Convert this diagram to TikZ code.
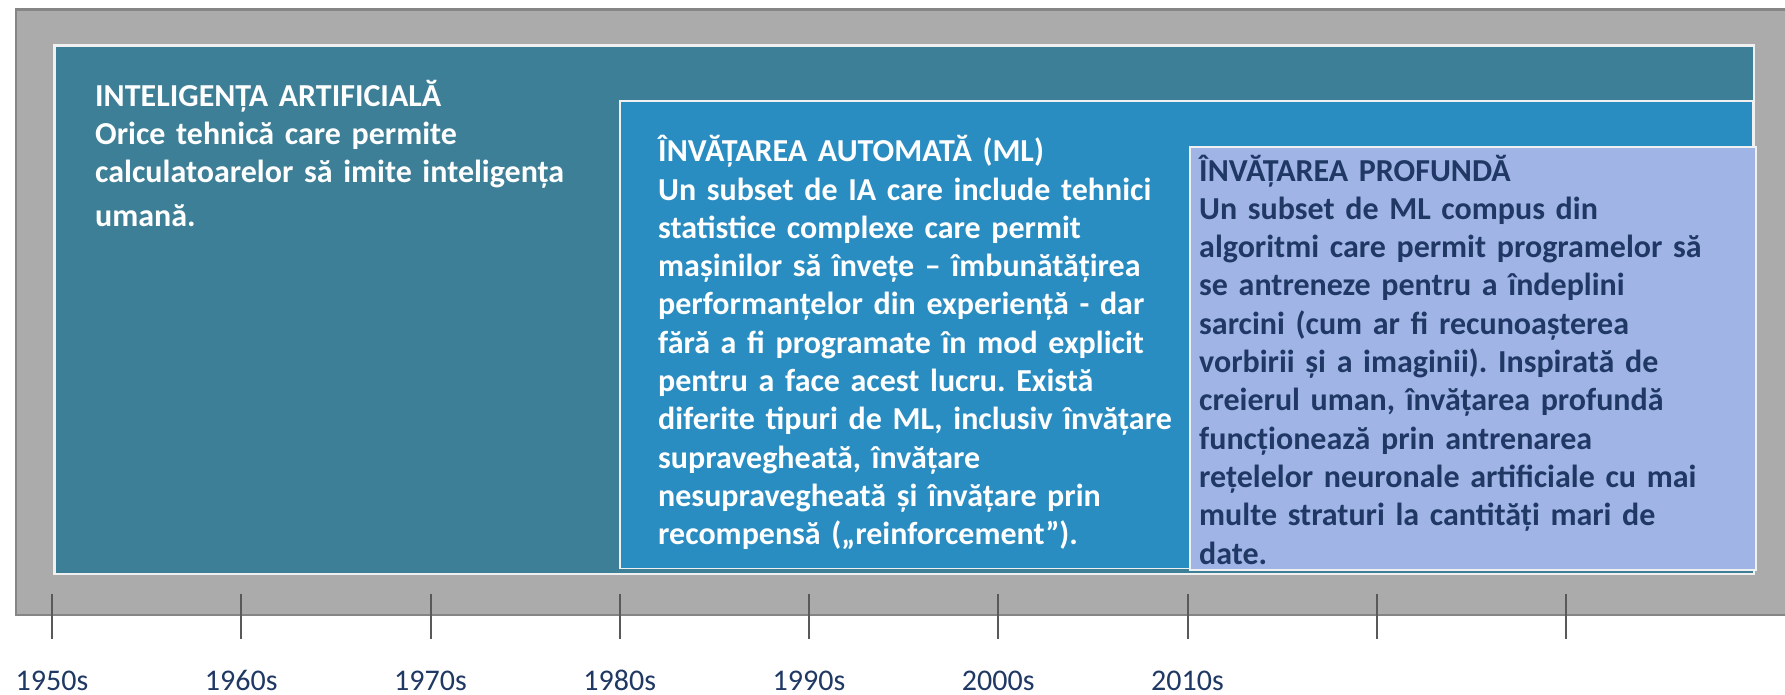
\documentclass[tikz,border=0pt]{standalone}
\usepackage{fontspec}
\setmainfont{Carlito}
\frenchspacing
\definecolor{graybg}{HTML}{ABABAB}
\definecolor{grayline}{HTML}{858585}
\definecolor{tealbox}{HTML}{3D7F96}
\definecolor{mlbox}{HTML}{2A8DC2}
\definecolor{dlbox}{HTML}{A0B5E6}
\definecolor{edgewhite}{HTML}{F0F0F0}
\definecolor{navy}{HTML}{1F3864}
\definecolor{tickgray}{HTML}{595959}
\tikzset{
  boxtext/.style={anchor=base west, inner sep=0pt, text width=620pt, align=left,
    font=\fontsize{32}{38.3}\selectfont\bfseries\frenchspacing},
  yearlabel/.style={anchor=base, inner sep=0pt, text=navy, font=\fontsize{30}{36}\selectfont},
  tickline/.style={draw=tickgray, line width=2pt},
}
\begin{document}
\begin{tikzpicture}[x=1pt,y=-1pt]
\useasboundingbox (0,0) rectangle (1785,694);
\clip (0,0) rectangle (1785,694);
\fill[white] (0,0) rectangle (1785,694);
% outer gray band
\draw[draw=grayline, fill=graybg, line width=2.4pt] (16.2,9.5) rectangle (1800,614.7);
% AI box
\draw[draw=edgewhite, fill=tealbox, line width=2.6pt] (54.3,45.3) rectangle (1754,574);
% ML box
\draw[draw=edgewhite, fill=mlbox, line width=1.6pt] (619.8,100.8) rectangle (1752.8,568.5);
% DL box
\draw[draw=edgewhite, fill=dlbox, line width=2pt] (1190,147) rectangle (1755.5,570);

\node[boxtext, text=white] (ai) at (95,106) {INTELIGENȚA ARTIFICIALĂ\\
Orice tehnică care permite\\
calculatoarelor să imite inteligența\\[6pt]
umană.};

\node[boxtext, text=white] (ml) at (658,161.7) {ÎNVĂȚAREA AUTOMATĂ (ML)\\
Un subset de IA care include tehnici\\
statistice complexe care permit\\
mașinilor să învețe – îmbunătățirea\\
performanțelor din experiență - dar\\
fără a fi programate în mod explicit\\
pentru a face acest lucru. Există\\
diferite tipuri de ML, inclusiv învățare\\
supravegheată, învățare\\
nesupravegheată și învățare prin\\
recompensă („reinforcement”).};

\node[boxtext, text=navy] (dl) at (1199,181) {ÎNVĂȚAREA PROFUNDĂ\\
Un subset de ML compus din\\
algoritmi care permit programelor să\\
se antreneze pentru a îndeplini\\
sarcini (cum ar fi recunoașterea\\
vorbirii și a imaginii). Inspirată de\\
creierul uman, învățarea profundă\\
funcționează prin antrenarea\\
rețelelor neuronale artificiale cu mai\\
multe straturi la cantități mari de\\
date.};

\foreach \i in {0,...,8} {
  \coordinate (t\i a) at (52+189.25*\i,594);
  \coordinate (t\i b) at (52+189.25*\i,639);
  \draw[tickline] (t\i a) -- (t\i b);
}
\foreach \i/\lab in {0/1950s,1/1960s,2/1970s,3/1980s,4/1990s,5/2000s,6/2010s} {
  \node[yearlabel] (y\i) at (52+189.25*\i,690) {\lab};
}
\end{tikzpicture}
\end{document}
